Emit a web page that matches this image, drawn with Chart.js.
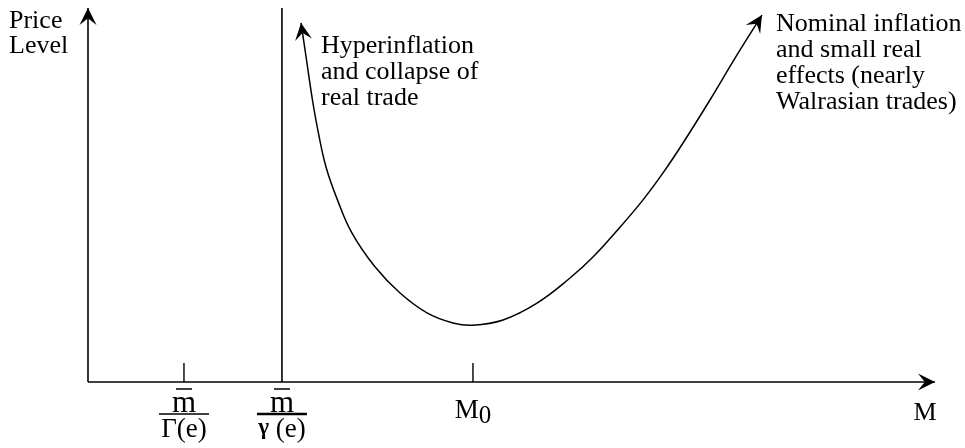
<!DOCTYPE html>
<html>
<head>
<meta charset="utf-8">
<script src="https://cdn.jsdelivr.net/npm/chart.js@4"></script>
<style>
body { margin: 0; background: #fff; }
canvas { display: block; }
</style>
</head>
<body>
<canvas id="chart" width="965" height="448"></canvas>
<script>
// price level against money stock M (arbitrary units 0-100)
const curveM = [25.15, 25.80, 26.50, 27.20, 28.10, 29.45, 31.17, 33.88, 36.84, 40.02, 43.09, 45.45,
  49.00, 53.01, 56.91, 59.62, 62.81, 65.53, 67.89, 70.25, 73.43, 76.39, 79.57];
const curveP = [96.0, 86.1, 75.4, 66.6, 57.5, 48.7, 39.8, 30.8, 23.8, 18.5, 15.8, 15.2,
  16.6, 21.1, 27.8, 33.4, 41.4, 48.7, 55.9, 63.9, 75.4, 86.6, 98.1];

const boundM = 22.9;                  // m / gamma(e), vertical line
const tickM = [11.33, 22.9, 45.45];   // m/Γ(e), m/γ(e), M0
const tickLen = 5.1;

const yTitle = ['Price', 'Level'];
const xTitle = 'M';
const noteLeft = ['Hyperinflation', 'and collapse of', 'real trade'];
const noteRight = ['Nominal inflation', 'and small real', 'effects (nearly', 'Walrasian trades)'];

const FONT = '"Liberation Serif", "Times New Roman", serif';

function seg(x0, y0, x1, y1) {
  return [{ x: x0, y: y0 }, { x: x1, y: y1 }];
}

const curve = curveM.map((m, i) => ({ x: m, y: curveP[i] }));

const datasets = [
  { data: seg(0, 0, 0, 100), arrowEnd: true, borderWidth: 1.6 },
  { data: seg(0, 0, 100, 0), arrowEnd: true, borderWidth: 1.6 },
  { data: seg(boundM, 0, boundM, 100), borderWidth: 1.6 },
  { data: seg(tickM[0], 0, tickM[0], tickLen), borderWidth: 1.4 },
  { data: seg(tickM[2], 0, tickM[2], tickLen), borderWidth: 1.4 },
  { data: curve, arrowStart: true, arrowEnd: true, borderWidth: 1.5, tension: 0.4 }
].map(d => Object.assign({
  showLine: true, pointRadius: 0, borderColor: '#000', clip: false, fill: false
}, d));

function arrowHead(ctx, tip, from) {
  const dx = tip.x - from.x, dy = tip.y - from.y;
  const len = Math.hypot(dx, dy);
  const ux = dx / len, uy = dy / len;
  const nx = -uy, ny = ux;
  const L = 17, W = 8.5, k = 0.6;
  ctx.beginPath();
  ctx.moveTo(tip.x, tip.y);
  ctx.lineTo(tip.x - L * ux + W * nx, tip.y - L * uy + W * ny);
  ctx.lineTo(tip.x - k * L * ux, tip.y - k * L * uy);
  ctx.lineTo(tip.x - L * ux - W * nx, tip.y - L * uy - W * ny);
  ctx.closePath();
  ctx.fill();
}

const arrows = {
  id: 'arrows',
  afterDatasetsDraw(chart) {
    const ctx = chart.ctx;
    ctx.save();
    ctx.fillStyle = '#000';
    chart.data.datasets.forEach((ds, i) => {
      const pts = chart.getDatasetMeta(i).data;
      const n = pts.length;
      if (ds.arrowEnd) arrowHead(ctx, pts[n - 1], pts[n - 2]);
      if (ds.arrowStart) arrowHead(ctx, pts[0], pts[1]);
    });
    ctx.restore();
  }
};

const texts = {
  id: 'texts',
  afterDraw(chart) {
    const ctx = chart.ctx;
    const sx = chart.scales.x, sy = chart.scales.y;
    ctx.save();
    ctx.fillStyle = '#000';
    ctx.strokeStyle = '#000';
    ctx.textBaseline = 'alphabetic';
    ctx.font = '26px ' + FONT;

    ctx.textAlign = 'left';
    yTitle.forEach((t, i) => ctx.fillText(t, 9, 28 + i * 25));
    noteLeft.forEach((t, i) => ctx.fillText(t, 321, 53 + i * 26));
    noteRight.forEach((t, i) => ctx.fillText(t, 776, 31 + i * 26));

    ctx.textAlign = 'center';
    ctx.fillText(xTitle, sx.getPixelForValue(100) - 10, 420);

    // fractions m / Γ(e) and m / γ(e)
    const y0 = sy.getPixelForValue(0);
    [0, 1].forEach(j => {
      const px = sx.getPixelForValue(tickM[j]);
      ctx.font = '31px ' + FONT;
      ctx.textAlign = 'center';
      ctx.fillText('m', px, y0 + 30);
      ctx.lineWidth = 1.5;
      ctx.beginPath();
      ctx.moveTo(px - 8, y0 + 7); ctx.lineTo(px + 8, y0 + 7);
      ctx.stroke();
      ctx.lineWidth = j === 0 ? 1.5 : 2.5;
      ctx.beginPath();
      ctx.moveTo(px - 25, y0 + 32); ctx.lineTo(px + 25, y0 + 32);
      ctx.stroke();
      ctx.font = '27px ' + FONT;
      if (j === 0) {
        ctx.fillText('Γ(e)', px, y0 + 55);
      } else {
        ctx.font = 'bold 23px ' + FONT;
        const g = ctx.measureText('γ').width;
        ctx.font = '27px ' + FONT;
        const r = ctx.measureText(' (e)').width;
        const left = px - (g + r) / 2;
        ctx.textAlign = 'left';
        ctx.font = 'bold 23px ' + FONT;
        ctx.fillText('γ', left, y0 + 52);
        ctx.font = '27px ' + FONT;
        ctx.fillText(' (e)', left + g, y0 + 55);
      }
    });

    // M0 under its tick
    const pm = sx.getPixelForValue(tickM[2]);
    ctx.font = '27px ' + FONT;
    const wM = ctx.measureText('M').width;
    ctx.font = '25px ' + FONT;
    const w0 = ctx.measureText('0').width;
    const l = pm - (wM + w0) / 2;
    ctx.textAlign = 'left';
    ctx.font = '27px ' + FONT;
    ctx.fillText('M', l, y0 + 36);
    ctx.font = '25px ' + FONT;
    ctx.fillText('0', l + wM, y0 + 41);
    ctx.restore();
  }
};

new Chart(document.getElementById('chart'), {
  type: 'scatter',
  data: { datasets },
  options: {
    responsive: false,
    animation: false,
    layout: { padding: { left: 88, right: 30, top: 8, bottom: 66 } },
    scales: {
      x: { type: 'linear', min: 0, max: 100, display: false },
      y: { type: 'linear', min: 0, max: 100, display: false }
    },
    plugins: { legend: { display: false }, tooltip: { enabled: false } }
  },
  plugins: [arrows, texts]
});
</script>
</body>
</html>
